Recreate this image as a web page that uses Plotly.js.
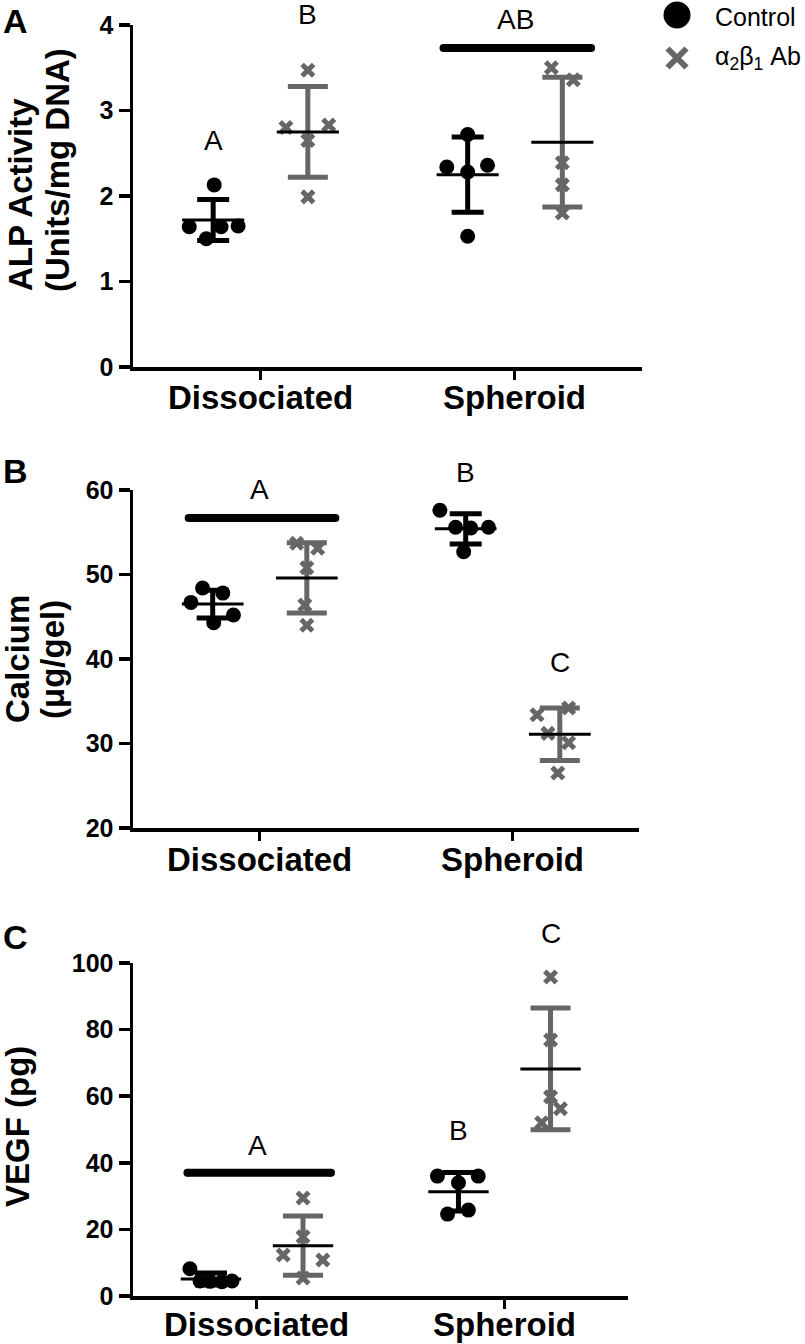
<!DOCTYPE html>
<html>
<head>
<meta charset="utf-8">
<script src="https://cdn.plot.ly/plotly-3.0.1.min.js"></script>
<style>html,body{margin:0;padding:0;background:#fff;}#chart{width:805px;height:1344px;}</style>
</head>
<body>
<div id="chart"></div>
<script>
// ---------- DATA ----------
const categories = ['Dissociated', 'Spheroid'];
const groupNames = ['Control', 'α<sub>2</sub>β<sub>1</sub> Ab'];

// Panel A: ALP activity (Units/mg DNA)
const alpCtrlDiss = [2.13, 1.64, 1.50, 1.64, 1.65];
const alpCtrlSph  = [2.72, 2.34, 2.36, 2.28, 1.53];
const alpAbDiss   = [3.47, 2.80, 2.65, 2.83, 1.99];
const alpAbSph    = [3.50, 3.36, 2.39, 2.13, 1.80];
const alpCtrlMean = [1.72, 2.25];
const alpCtrlSD   = [0.24, 0.44];
const alpAbMean   = [2.75, 2.63];
const alpAbSD     = [0.53, 0.76];

// Panel B: Calcium (ug/gel)
const caCtrlDiss = [48.4, 46.7, 47.8, 44.3, 45.2];
const caCtrlSph  = [57.6, 55.6, 55.5, 55.6, 52.7];
const caAbDiss   = [53.7, 53.1, 50.8, 46.4, 44.0];
const caAbSph    = [33.4, 34.2, 31.2, 30.1, 26.5];
const caCtrlMean = [46.5, 55.4];
const caCtrlSD   = [1.65, 1.8];
const caAbMean   = [49.6, 31.1];
const caAbSD     = [4.15, 3.1];

// Panel C: VEGF (pg)
const vegfCtrlDiss = [8.2, 4.5, 4.4, 4.3, 4.5];
const vegfCtrlSph  = [36.0, 36.0, 34.0, 24.6, 25.8];
const vegfAbDiss   = [29.4, 17.8, 12.3, 10.8, 5.4];
const vegfAbSph    = [95.8, 76.9, 59.8, 56.2, 52.0];
const vegfCtrlMean = [5.1, 31.3];
const vegfCtrlSD   = [1.8, 5.8];
const vegfAbMean   = [15.1, 68.2];
const vegfAbSD     = [8.9, 18.3];

// horizontal scatter (jitter) of the dots, in category units
const jitAlpCtrlDiss = [0.004, -0.094, -0.027, 0.031, 0.098];
const jitAlpCtrlSph  = [0, -0.082, 0.078, 0, 0];
const jitAlpAbDiss   = [0, -0.086, 0, 0.082, 0];
const jitAlpAbSph    = [-0.043, 0.043, 0, 0, 0];
const jitCaCtrlDiss  = [-0.04, -0.086, 0.04, 0.004, 0.082];
const jitCaCtrlSph   = [-0.102, -0.04, 0.02, 0.09, -0.008];
const jitCaAbDiss    = [-0.04, 0.043, 0, -0.008, 0];
const jitCaAbSph     = [-0.09, 0.035, -0.047, 0.035, -0.008];
const jitVegfCtrlDiss = [-0.085, -0.044, -0.004, 0.044, 0.085];
const jitVegfCtrlSph  = [-0.085, 0.08, 0, -0.044, 0.04];
const jitVegfAbDiss   = [0, 0, -0.08, 0.08, 0];
const jitVegfAbSph    = [0, 0, 0, 0.04, -0.036];

// significance letters: [category index, group (-1 ctrl, 0 center, 1 ab), y, text]
const alpLetters  = [[0, -1, 2.65, 'A'], [0, 1, 4.12, 'B'], [1, 0, 4.06, 'AB']];
const caLetters   = [[0, 0, 60.0, 'A'], [1, -1, 62.1, 'B'], [1, 1, 39.6, 'C']];
const vegfLetters = [[0, 0, 45.3, 'A'], [1, -1, 49.8, 'B'], [1, 1, 109, 'C']];
// grouping bars: [category index, y]
const alpBars  = [[1, 3.73]];
const caBars   = [[0, 56.7]];
const vegfBars = [[0, 37.0]];

// ---------- STYLE / GEOMETRY ----------
const W = 805, H = 1344;
const FONT = 'Liberation Sans, Arial, Helvetica, sans-serif';
const BLACK = '#000000', GRAY = '#666666';
const OFF_CTRL = -0.185, OFF_AB = 0.187;
const px = x => x / W;
const py = y => 1 - y / H;

// plot-area boxes in pixels: [left, right, top, bottom], y ranges
const boxes = {1: [133, 642, 25, 367], 2: [133, 639, 490, 828], 3: [133, 628, 963, 1296]};
const labelGap = {1: 31, 2: 31, 3: 28};
const yRanges = {1: [0, 4], 2: [20, 60], 3: [0, 100]};
const yDticks = {1: 1, 2: 10, 3: 20};
const xRange = [-0.5, 1.5];
// data y -> paper y (so that letters above the axis top are still drawn)
function yPaper(ax, v) {
  const [l, r, t, b] = boxes[ax];
  const [y0, y1] = yRanges[ax];
  return py(b) + (v - y0) / (y1 - y0) * (py(t) - py(b));
}

const traces = [];
const annotations = [];

function addGroup(ax, xc, vals, jit, mean, sd, isAb) {
  const xa = 'x' + ax, ya = 'y' + ax;
  const color = isAb ? GRAY : BLACK;
  traces.push({
    type: 'scatter', mode: 'markers', xaxis: xa, yaxis: ya, cliponaxis: false,
    x: vals.map((v, i) => xc + jit[i]), y: vals, showlegend: false, hoverinfo: 'y',
    marker: isAb
      ? {symbol: 'x-thin-open', size: 11.5, color: GRAY, line: {color: GRAY, width: 5}}
      : {symbol: 'circle', size: 15, color: BLACK, line: {width: 0}}
  });
  traces.push({
    type: 'scatter', mode: 'markers', xaxis: xa, yaxis: ya, cliponaxis: false,
    x: [xc], y: [mean], showlegend: false, hoverinfo: 'skip',
    marker: {size: 1, color: 'rgba(0,0,0,0)'},
    error_y: {type: 'data', array: [sd], visible: true, color: color, thickness: 5, width: isAb ? 20 : 16}
  });
  traces.push({
    type: 'scatter', mode: 'lines', xaxis: xa, yaxis: ya, cliponaxis: false,
    x: [xc - 0.122, xc + 0.122], y: [mean, mean], showlegend: false, hoverinfo: 'skip',
    line: {color: BLACK, width: 3}
  });
}

function addPanel(ax, ctrl, ab, ctrlJit, abJit, ctrlMean, ctrlSD, abMean, abSD, letters, bars) {
  for (let c = 0; c < 2; c++) {
    addGroup(ax, c + OFF_CTRL, ctrl[c], ctrlJit[c], ctrlMean[c], ctrlSD[c], false);
    addGroup(ax, c + OFF_AB, ab[c], abJit[c], abMean[c], abSD[c], true);
  }
  bars.forEach(([c, y]) => {
    traces.push({
      type: 'scatter', mode: 'lines+markers', xaxis: 'x' + ax, yaxis: 'y' + ax, cliponaxis: false,
      x: [c - 0.28, c + 0.30], y: [y, y], showlegend: false, hoverinfo: 'skip',
      line: {color: BLACK, width: 8}, marker: {size: 8, color: BLACK}
    });
  });
  letters.forEach(([c, g, y, t]) => {
    const xc = c + (g < 0 ? OFF_CTRL : g > 0 ? OFF_AB : 0.001);
    annotations.push({
      xref: 'x' + ax, yref: 'paper', x: xc, y: yPaper(ax, y), text: t, showarrow: false,
      xanchor: 'center', yanchor: 'middle', font: {family: FONT, size: 28, color: BLACK}
    });
  });
  // category labels under the axis
  categories.forEach((cat, c) => {
    annotations.push({
      xref: 'x' + ax, yref: 'paper', x: c, y: py(boxes[ax][3] + labelGap[ax]), text: '<b>' + cat + '</b>',
      showarrow: false, xanchor: 'center', yanchor: 'middle',
      font: {family: FONT, size: 33, color: BLACK}
    });
  });
}

addPanel(1, [alpCtrlDiss, alpCtrlSph], [alpAbDiss, alpAbSph],
  [jitAlpCtrlDiss, jitAlpCtrlSph], [jitAlpAbDiss, jitAlpAbSph],
  alpCtrlMean, alpCtrlSD, alpAbMean, alpAbSD, alpLetters, alpBars);
addPanel(2, [caCtrlDiss, caCtrlSph], [caAbDiss, caAbSph],
  [jitCaCtrlDiss, jitCaCtrlSph], [jitCaAbDiss, jitCaAbSph],
  caCtrlMean, caCtrlSD, caAbMean, caAbSD, caLetters, caBars);
addPanel(3, [vegfCtrlDiss, vegfCtrlSph], [vegfAbDiss, vegfAbSph],
  [jitVegfCtrlDiss, jitVegfCtrlSph], [jitVegfAbDiss, jitVegfAbSph],
  vegfCtrlMean, vegfCtrlSD, vegfAbMean, vegfAbSD, vegfLetters, vegfBars);

// legend (drawn on a hidden pixel-scaled axis)
traces.push({
  type: 'scatter', mode: 'markers', xaxis: 'x4', yaxis: 'y4', cliponaxis: false, showlegend: false,
  x: [677], y: [15], marker: {symbol: 'circle', size: 27, color: BLACK}, hoverinfo: 'skip'
});
traces.push({
  type: 'scatter', mode: 'markers', xaxis: 'x4', yaxis: 'y4', cliponaxis: false, showlegend: false,
  x: [677], y: [58], marker: {symbol: 'x-thin-open', size: 19, color: GRAY, line: {color: GRAY, width: 6}}, hoverinfo: 'skip'
});
groupNames.forEach((name, i) => {
  annotations.push({
    xref: 'paper', yref: 'paper', x: px(713), y: py(i === 0 ? 17 : 58), text: name, showarrow: false,
    xanchor: 'left', yanchor: 'middle', font: {family: FONT, size: 25, color: BLACK}
  });
});

// panel letters
[['A', 15, 21], ['B', 15, 471], ['C', 15, 937]].forEach(([t, x, y]) => {
  annotations.push({xref: 'paper', yref: 'paper', x: px(x), y: py(y), text: '<b>' + t + '</b>', showarrow: false,
    xanchor: 'center', yanchor: 'middle', font: {family: FONT, size: 34, color: BLACK}});
});

// y-axis titles
[['ALP Activity', 21, 195], ['(Units/mg DNA)', 57, 170], ['Calcium', 17, 659], ['(μg/gel)', 52, 660], ['VEGF (pg)', 17, 1127]]
  .forEach(([t, x, y]) => {
    annotations.push({xref: 'paper', yref: 'paper', x: px(x), y: py(y), text: '<b>' + t + '</b>', showarrow: false,
      textangle: -90, xanchor: 'center', yanchor: 'middle', font: {family: FONT, size: 33, color: BLACK}});
  });

function xAxis(ax) {
  const [l, r] = boxes[ax];
  return {
    domain: [px(l), px(r)], anchor: 'y' + ax, range: xRange,
    tickvals: [0, 1], showticklabels: false, showgrid: false, zeroline: false,
    showline: true, linecolor: BLACK, linewidth: 3.5, ticks: 'outside', ticklen: 9, tickwidth: 3, tickcolor: BLACK,
    fixedrange: true
  };
}
function yAxis(ax) {
  const [l, r, t, b] = boxes[ax];
  return {
    domain: [py(b), py(t)], anchor: 'x' + ax, range: yRanges[ax], dtick: yDticks[ax], tick0: yRanges[ax][0],
    showgrid: false, zeroline: false, showline: true, linecolor: BLACK, linewidth: 3.5,
    ticks: 'outside', ticklen: 11, tickwidth: 3.5, tickcolor: BLACK,
    tickfont: {family: FONT, size: 25, color: BLACK, weight: 'bold'}, fixedrange: true
  };
}

const layout = {
  width: W, height: H, autosize: false,
  margin: {l: 0, r: 0, t: 0, b: 0, pad: 0},
  paper_bgcolor: '#ffffff', plot_bgcolor: '#ffffff',
  showlegend: false,
  xaxis: xAxis(1), yaxis: yAxis(1),
  xaxis2: xAxis(2), yaxis2: yAxis(2),
  xaxis3: xAxis(3), yaxis3: yAxis(3),
  xaxis4: {domain: [px(650), px(705)], range: [650, 705], visible: false, anchor: 'y4', fixedrange: true},
  yaxis4: {domain: [py(75), py(0)], range: [75, 0], visible: false, anchor: 'x4', fixedrange: true},
  annotations: annotations
};

Plotly.newPlot('chart', traces, layout, {staticPlot: true, displayModeBar: false});
</script>
</body>
</html>
